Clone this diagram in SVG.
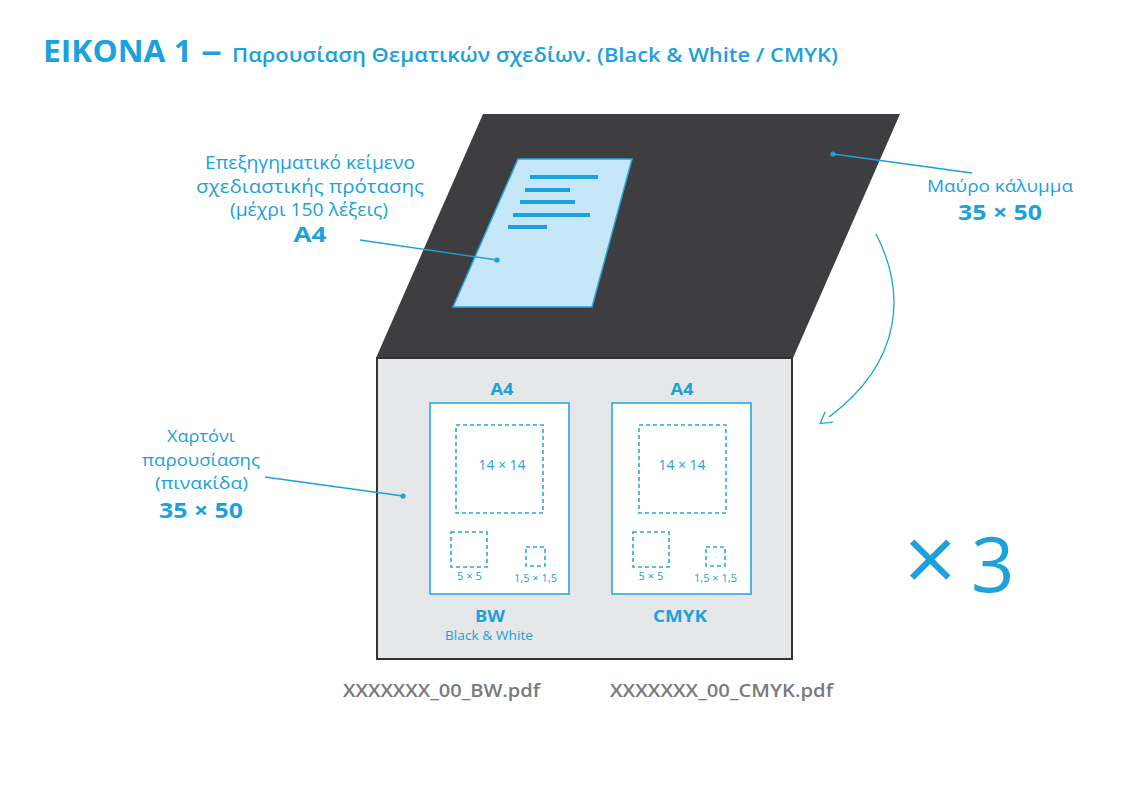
<svg xmlns="http://www.w3.org/2000/svg" width="1145" height="809" viewBox="0 0 1145 809">
<defs>
<style>
text{font-family:"Open Sans","Noto Sans","Liberation Sans",sans-serif;fill:#1ba1dc}
.lbl{font-size:16.5px;text-anchor:middle}
.big{font-size:18.5px}
.bold{font-weight:700}
.dash{fill:none;stroke:#29a8e0;stroke-width:1.6;stroke-dasharray:4 3}
.sheet{fill:#fff;stroke:#29a8e0;stroke-width:1.6}
.lead{fill:none;stroke:#1ba1dc;stroke-width:1.3}
.dot{fill:#1ba1dc}
.small{font-size:10px;text-anchor:middle}
.mid{font-size:13px;text-anchor:middle}
.file{font-size:17.5px;fill:#7a7a7a;font-weight:600}
</style>
<marker id="arr" markerWidth="16" markerHeight="16" refX="1" refY="8" orient="auto" markerUnits="userSpaceOnUse">
<polyline points="12,1.5 1,8 12,14.5" fill="none" stroke="#1ba1dc" stroke-width="1.3" transform="rotate(180 7 8) translate(1 0)"/>
</marker>
</defs>
<rect width="1145" height="809" fill="#fff"/>

<g id="title">
<text x="43" y="62" style="font-size:30px;font-weight:700" textLength="149" lengthAdjust="spacingAndGlyphs">EIKONA 1</text>
<text x="201" y="62" style="font-size:30px;font-weight:700" textLength="21" lengthAdjust="spacingAndGlyphs">–</text>
<text x="232" y="62" style="font-size:19.5px;font-weight:600" textLength="606" lengthAdjust="spacingAndGlyphs">Παρουσίαση Θεματικών σχεδίων. (Black &amp; White / CMYK)</text>
</g>

<g id="cover">
<polygon points="483,114 900,114 793,358 376,358" fill="#3e3e40"/>
</g>

<g id="a4-text-sheet">
<polygon points="518,159 632,159 592,307 453,307" fill="#c6e7f8" stroke="#29a8e0" stroke-width="1.5"/>
<g stroke="#1ba1dc" stroke-width="4">
<line x1="530" y1="177" x2="598" y2="177"/>
<line x1="525" y1="190" x2="570" y2="190"/>
<line x1="520" y1="202" x2="575" y2="202"/>
<line x1="513" y1="215" x2="590" y2="215"/>
<line x1="508" y1="227" x2="547" y2="227"/>
</g>
</g>

<g id="board">
<rect x="377" y="358" width="415" height="301" fill="#e6e7e8" stroke="#333" stroke-width="2"/>
</g>

<g id="sheet-bw">
<text x="502" y="395" class="mid bold" style="font-size:16.5px" textLength="23" lengthAdjust="spacingAndGlyphs">A4</text>
<rect x="430" y="403" width="139" height="191" class="sheet"/>
<rect x="456" y="425" width="87" height="88" class="dash"/>
<text x="502" y="470" class="mid" style="font-size:14px" textLength="47" lengthAdjust="spacingAndGlyphs">14 × 14</text>
<rect x="451" y="532" width="36" height="35" class="dash"/>
<rect x="526" y="547" width="19" height="19" class="dash"/>
<text x="469.5" y="580" class="small" textLength="25" lengthAdjust="spacingAndGlyphs">5 × 5</text>
<text x="535.5" y="582" class="small" textLength="43" lengthAdjust="spacingAndGlyphs">1,5 × 1,5</text>
<text x="490" y="622" class="mid bold" style="font-size:16px" textLength="30" lengthAdjust="spacingAndGlyphs">BW</text>
<text x="489" y="640" class="mid" style="font-size:13.5px" textLength="88" lengthAdjust="spacingAndGlyphs">Black &amp; White</text>
</g>

<g id="sheet-cmyk">
<text x="682" y="395" class="mid bold" style="font-size:16.5px" textLength="23" lengthAdjust="spacingAndGlyphs">A4</text>
<rect x="612" y="403" width="139" height="191" class="sheet"/>
<rect x="639" y="425" width="87" height="88" class="dash"/>
<text x="682" y="470" class="mid" style="font-size:14px" textLength="47" lengthAdjust="spacingAndGlyphs">14 × 14</text>
<rect x="633" y="532" width="36" height="35" class="dash"/>
<rect x="706" y="547" width="19" height="19" class="dash"/>
<text x="651" y="580" class="small" textLength="25" lengthAdjust="spacingAndGlyphs">5 × 5</text>
<text x="715.5" y="582" class="small" textLength="43" lengthAdjust="spacingAndGlyphs">1,5 × 1,5</text>
<text x="680" y="622" class="mid bold" style="font-size:16px" textLength="54" lengthAdjust="spacingAndGlyphs">CMYK</text>
</g>

<g id="label-text">
<text x="310" y="169" class="lbl big" textLength="210" lengthAdjust="spacingAndGlyphs">Επεξηγηματικό κείμενο</text>
<text x="310" y="193" class="lbl big" textLength="228" lengthAdjust="spacingAndGlyphs">σχεδιαστικής πρότασης</text>
<text x="309" y="216" class="lbl big" textLength="158" lengthAdjust="spacingAndGlyphs">(μέχρι 150 λέξεις)</text>
<text x="310" y="242" class="lbl bold" style="font-size:21px" textLength="33" lengthAdjust="spacingAndGlyphs">A4</text>
</g>

<g id="label-board">
<text x="201" y="442" class="lbl" textLength="68" lengthAdjust="spacingAndGlyphs">Χαρτόνι</text>
<text x="201" y="466" class="lbl" textLength="118" lengthAdjust="spacingAndGlyphs">παρουσίασης</text>
<text x="201.5" y="489" class="lbl" textLength="93" lengthAdjust="spacingAndGlyphs">(πινακίδα)</text>
<text x="201" y="518" class="lbl bold" style="font-size:22px" textLength="84" lengthAdjust="spacingAndGlyphs">35 × 50</text>
</g>

<g id="label-cover">
<text x="1000" y="192" class="lbl" textLength="146" lengthAdjust="spacingAndGlyphs">Μαύρο κάλυμμα</text>
<text x="1000" y="220" class="lbl bold" style="font-size:22px" textLength="84" lengthAdjust="spacingAndGlyphs">35 × 50</text>
</g>

<g id="times3">
<text y="592" style="font-size:76px"><tspan x="904" style="font-size:92px">×</tspan><tspan x="971">3</tspan></text>
</g>

<g id="files">
<text x="343" y="697" class="file" textLength="197" lengthAdjust="spacingAndGlyphs">XXXXXXX_00_BW.pdf</text>
<text x="610" y="697" class="file" textLength="223" lengthAdjust="spacingAndGlyphs">XXXXXXX_00_CMYK.pdf</text>
</g>

<g id="connectors">
<line x1="360" y1="240" x2="497" y2="260" class="lead"/>
<circle cx="497" cy="260" r="2.6" class="dot"/>
<line x1="265" y1="477" x2="403" y2="496" class="lead"/>
<circle cx="403" cy="496" r="2.6" class="dot"/>
<line x1="833" y1="154" x2="972" y2="173" class="lead"/>
<circle cx="833" cy="154" r="2.6" class="dot"/>
<path d="M876,234 C905,290 905,360 829,417" class="lead" marker-end="url(#arr)"/>
</g>
</svg>
